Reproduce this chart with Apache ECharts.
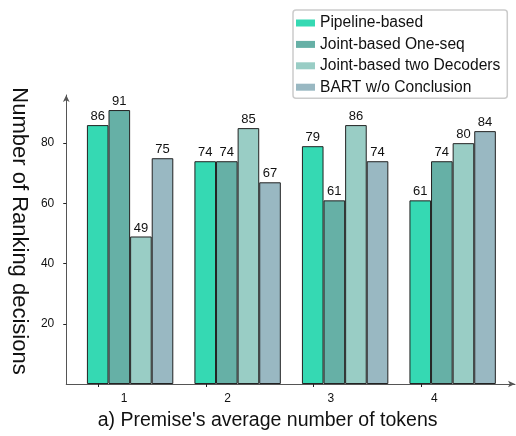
<!DOCTYPE html>
<html>
<head>
<meta charset="utf-8">
<script src="https://cdn.jsdelivr.net/npm/echarts@6/dist/echarts.min.js"></script>
<style>
html,body{margin:0;padding:0;background:#fff;}
#chart{width:516px;height:436px;}
</style>
</head>
<body>
<div id="chart"></div>
<script>
const categories = [1, 2, 3, 4];
const tickLabels = ['1', '2', '3', '4'];
const seriesNames = ['Pipeline-based', 'Joint-based One-seq', 'Joint-based two Decoders', 'BART w/o Conclusion'];
const pipelineBased = [86, 74, 79, 61];
const jointOneSeq = [91, 74, 61, 74];
const jointTwoDecoders = [49, 85, 86, 80];
const bartNoConclusion = [75, 67, 74, 84];
const yTicks = [20, 40, 60, 80];

const colors = ['#35d9b3', '#66b0a6', '#99cdc5', '#99b8c2'];
const allValues = [pipelineBased, jointOneSeq, jointTwoDecoders, bartNoConclusion];
const FONT = '"Liberation Sans", Arial, Helvetica, sans-serif';

// where the reference places its tick labels / tick marks relative to the bar groups
const labelPos = c => 0.944 + (c - 1) * 0.962;
const labelIndex = v => Math.round((v - 0.944) / 0.962);
const tickPos = c => c - 0.296;

const chart = echarts.init(document.getElementById('chart'), null, {renderer: 'canvas'});

const series = allValues.map((vals, i) => ({
  name: seriesNames[i],
  type: 'bar',
  barWidth: 21.6,
  barGap: '0%',
  data: vals.map((v, j) => [categories[j], v]),
  itemStyle: {color: colors[i], borderColor: '#222', borderWidth: 1},
  label: {
    show: true, position: 'top', distance: 2,
    color: '#111', fontSize: 13, fontFamily: FONT
  }
}));

chart.setOption({
  animation: false,
  backgroundColor: '#fff',
  grid: {left: 65, width: 450, top: 95, bottom: 46.5, containLabel: false},
  legend: {
    orient: 'vertical',
    left: 293, top: 10,
    padding: [5, 7, 3, 3],
    itemGap: 5.4,
    itemWidth: 19, itemHeight: 7,
    icon: 'rect',
    itemStyle: {borderWidth: 0},
    borderColor: '#ccc', borderWidth: 1.5, borderRadius: 3,
    backgroundColor: '#fff',
    textStyle: {fontSize: 15.6, color: '#111', fontFamily: FONT},
    data: seriesNames
  },
  xAxis: {
    type: 'value',
    min: 0.406, max: 4.58,
    splitLine: {show: false},
    axisLine: {show: true, lineStyle: {color: '#555', width: 1}, symbol: ['none', 'arrow'], symbolSize: [5, 7]},
    axisTick: {show: true, length: 3, inside: false, customValues: categories.map(tickPos), lineStyle: {color: '#222'}},
    axisLabel: {
      customValues: categories.map(labelPos),
      formatter: v => tickLabels[labelIndex(v)],
      fontSize: 12, color: '#111', fontFamily: FONT, margin: 9
    },
    name: "a) Premise's average number of tokens",
    nameLocation: 'middle', nameGap: 27,
    nameTextStyle: {fontSize: 19.5, color: '#111', fontFamily: FONT, padding: [0, 46, 0, 0]}
  },
  yAxis: {
    type: 'value',
    min: 0, max: 96,
    splitLine: {show: false},
    axisLine: {show: true, lineStyle: {color: '#555', width: 1}, symbol: ['none', 'arrow'], symbolSize: [5, 7]},
    axisTick: {show: true, length: 3, customValues: yTicks, lineStyle: {color: '#222'}},
    axisLabel: {customValues: yTicks, fontSize: 12, color: '#111', fontFamily: FONT, margin: 12},
    name: 'Number of Ranking decisions',
    nameLocation: 'middle', nameRotate: -90, nameGap: 33,
    nameTextStyle: {fontSize: 22, color: '#111', fontFamily: FONT, padding: [0, 17, 0, 0]}
  },
  series: series
});
</script>
</body>
</html>
